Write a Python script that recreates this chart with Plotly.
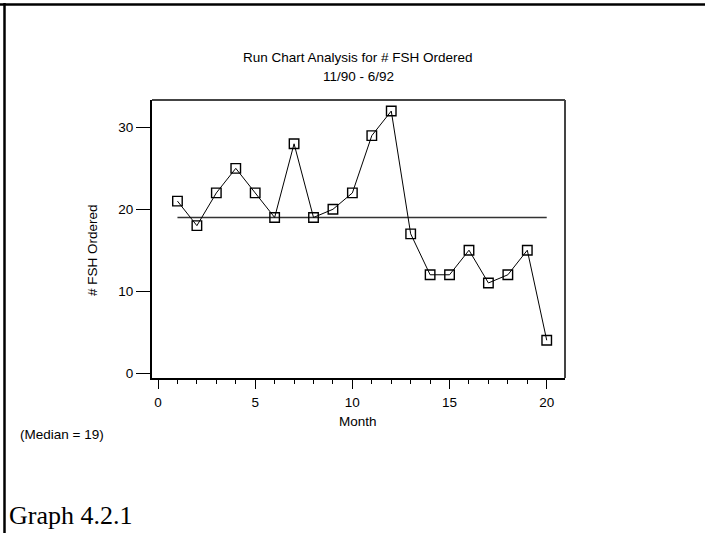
import plotly.graph_objects as go

# ---- data ----
months = list(range(1, 21))
fsh_ordered = [21, 18, 22, 25, 22, 19, 28, 19, 20, 22, 29, 32, 17, 12, 12, 15, 11, 12, 15, 4]
median_value = 19
x_tickvals = [0, 5, 10, 15, 20]
y_tickvals = [0, 10, 20, 30]

W, H = 705, 533
L, R, T, B = 152, 140, 100, 155
PW, PH = W - L - R, H - T - B


def px(x):
    return (x - L) / PW


def py(y):
    return (H - B - y) / PH


FONT = "Liberation Sans, Arial, sans-serif"
FS = 13.5

fig = go.Figure()
fig.add_trace(go.Scatter(
    x=[months[0], months[-1]], y=[median_value, median_value],
    mode="lines", line=dict(color="#333333", width=1.4),
    hoverinfo="skip", showlegend=False))
fig.add_trace(go.Scatter(
    x=months, y=fsh_ordered, mode="lines+markers",
    line=dict(color="black", width=1),
    marker=dict(symbol="square-open", size=9.5, color="black", line=dict(width=1.4)),
    showlegend=False))

fig.update_layout(
    width=W, height=H,
    margin=dict(l=L, r=R, t=T, b=B, pad=0),
    paper_bgcolor="white", plot_bgcolor="white",
    font=dict(family=FONT, size=FS, color="black"),
    xaxis=dict(range=[-0.31, 20.94], tickvals=x_tickvals, ticks="outside", ticklen=9,
               tickwidth=1.3, tickcolor="black", showline=True, linecolor="black", linewidth=2,
               showgrid=False, zeroline=False, ticklabelstandoff=2,
               minor=dict(dtick=1, tick0=0, ticks="outside", ticklen=4, tickwidth=1.2, tickcolor="black"),
               tickfont=dict(size=FS)),
    yaxis=dict(range=[-0.61, 33.35], tickvals=y_tickvals, ticks="outside", ticklen=14,
               tickwidth=1.3, tickcolor="black", showline=True, linecolor="black", linewidth=2,
               showgrid=False, zeroline=False, tickfont=dict(size=FS)),
    shapes=[
        dict(type="line", xref="paper", yref="paper", x0=0, x1=1, y0=1, y1=1,
             line=dict(color="#444444", width=2)),
        dict(type="line", xref="paper", yref="paper", x0=1, x1=1, y0=0, y1=1,
             line=dict(color="#444444", width=2)),
        dict(type="line", xref="paper", yref="paper", x0=px(0), x1=px(W), y0=py(4.5), y1=py(4.5),
             line=dict(color="black", width=2.5)),
        dict(type="line", xref="paper", yref="paper", x0=px(4.5), x1=px(4.5), y0=py(3), y1=py(H),
             line=dict(color="black", width=2.5)),
    ],
    annotations=[
        dict(text="Run Chart Analysis for # FSH Ordered", x=px(358), y=py(57), xref="paper", yref="paper",
             showarrow=False, font=dict(size=FS), xanchor="center", yanchor="middle"),
        dict(text="11/90 - 6/92", x=px(358), y=py(76), xref="paper", yref="paper",
             showarrow=False, font=dict(size=FS), xanchor="center", yanchor="middle"),
        dict(text="Month", x=px(358), y=py(421), xref="paper", yref="paper",
             showarrow=False, font=dict(size=FS), xanchor="center", yanchor="middle"),
        dict(text="# FSH Ordered", x=px(92), y=py(250), xref="paper", yref="paper", textangle=-90,
             showarrow=False, font=dict(size=FS), xanchor="center", yanchor="middle"),
        dict(text="(Median = 19)", x=px(18), y=py(434), xref="paper", yref="paper",
             showarrow=False, font=dict(size=13.5), xanchor="left", yanchor="middle"),
        dict(text="Graph 4.2.1", x=px(7), y=py(515), xref="paper", yref="paper",
             showarrow=False, font=dict(size=26, family="Liberation Serif, Times New Roman, serif"),
             xanchor="left", yanchor="middle"),
    ],
)

fig.write_html("out.html", config={"displayModeBar": False},
               post_script="document.body.style.margin='0';document.body.style.overflow='hidden';")
